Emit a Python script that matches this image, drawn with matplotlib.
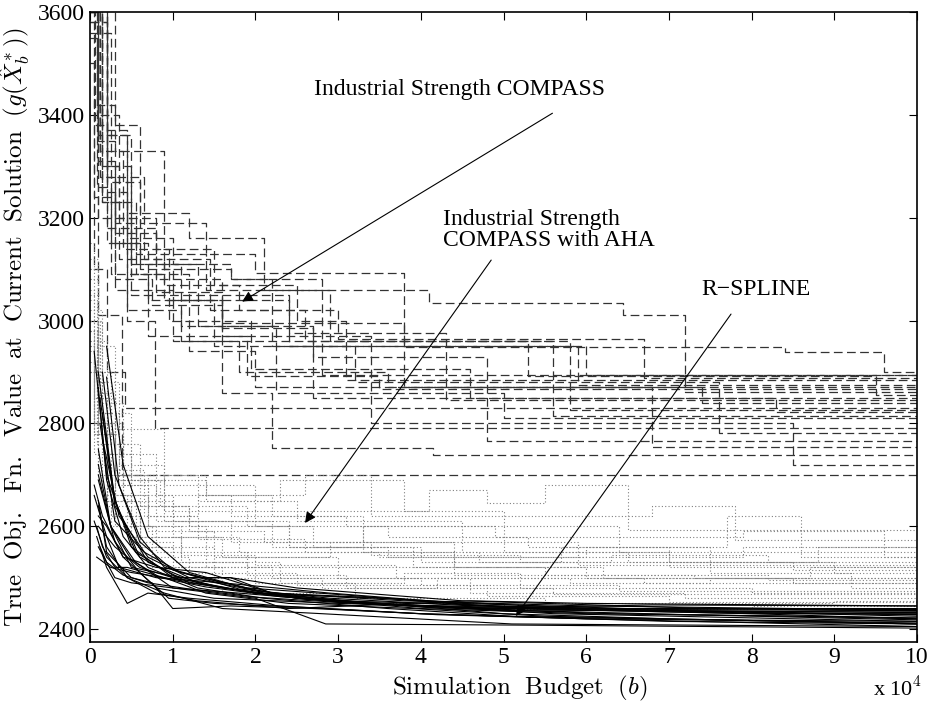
# Sample paths of three solvers: true objective of current solution vs budget
import numpy as np
import matplotlib.pyplot as plt

plt.rcParams['font.family'] = ['Liberation Serif', 'DejaVu Serif']
plt.rcParams['mathtext.fontset'] = 'cm'

# budget in units of 1e4, step paths (value holds until next breakpoint)
compass_x = [
    [0, 0.08, 0.3, 0.6, 1.4, 2.0, 3.8, 8.4, 9.6, 10],
    [0, 0.15, 0.45, 1.2, 2.1, 4.1, 6.45, 7.2, 10],
    [0, 0.1, 0.35, 0.9, 1.8, 3.0, 6.7, 10],
    [0, 0.2, 0.6, 1.3, 2.4, 5.9, 10],
    [0, 0.05, 0.3, 0.75, 1.6, 2.7, 10],
    [0, 0.12, 0.4, 0.95, 1.95, 4.6, 8.3, 10],
    [0, 0.2, 0.8, 1.6, 2.2, 4.15, 10],
    [0, 0.1, 0.39, 10],
    [0, 0.15, 0.45, 0.79, 10],
    [0, 0.2, 0.5, 1.1, 2.25, 5.0, 10],
    [0, 0.1, 0.3, 1.0, 1.8, 3.6, 7.4, 10],
    [0, 0.05, 0.2, 0.42, 10],
    [0, 0.1, 0.5, 1.3, 2.7, 4.8, 10],
    [0, 0.25, 0.7, 1.5, 3.2, 7.6, 10],
    [0, 0.15, 0.55, 1.2, 2.0, 6.8, 10],
    [0, 0.1, 0.3, 0.8, 1.6, 3.4, 8.5, 10],
    [0, 0.2, 0.65, 1.45, 2.6, 5.3, 9.5, 10],
    [0, 0.08, 0.25, 0.7, 1.9, 3.5, 10],
    [0, 0.3, 0.9, 1.7, 2.8, 10],
    [0, 0.1, 0.45, 1.1, 5.6, 10],
    [0, 0.1, 0.35, 0.8, 1.5, 2.5, 3.1, 10],
    [0, 0.06, 0.2, 0.6, 1.0, 2.4, 4.3, 10],
    [0, 0.12, 0.3, 0.55, 1.4, 2.9, 5.8, 10],
    [0, 0.2, 0.5, 0.9, 1.6, 3.8, 10],
    [0, 0.15, 0.45, 1.0, 1.7, 2.2, 6.0, 10],
]
compass_y = [
    [3700, 3420, 3380, 3190, 3130, 3093, 2948, 2939, 2900, 2900],
    [3620, 3370, 3210, 3160, 3060, 3034, 3011, 2861, 2861],
    [3650, 3300, 3120, 3070, 3020, 2965, 2888, 2888],
    [3610, 3270, 3110, 3050, 2950, 2875, 2875],
    [3600, 3240, 3080, 3030, 2985, 2849, 2849],
    [3680, 3330, 3140, 3000, 2905, 2850, 2822, 2822],
    [3580, 3180, 3055, 2859, 2752, 2739, 2739],
    [3650, 3010, 2700, 2700],
    [3600, 3250, 3000, 2791, 2791],
    [3700, 3300, 3110, 2990, 2860, 2810, 2810],
    [3620, 3350, 3060, 2960, 2900, 2870, 2840, 2840],
    [3500, 3100, 2900, 2830, 2830],
    [3640, 3200, 3050, 2990, 2930, 2765, 2765],
    [3560, 3150, 3040, 2950, 2880, 2781, 2781],
    [3600, 3230, 3090, 2940, 2870, 2754, 2754],
    [3660, 3310, 3170, 3080, 2970, 2800, 2719, 2719],
    [3610, 3280, 3120, 3020, 2960, 2893, 2855, 2855],
    [3550, 3260, 3090, 2970, 2892, 2867, 2867],
    [3640, 3330, 3100, 3080, 2895, 2895],
    [3700, 3360, 3020, 2960, 2815, 2815],
    [3650, 3400, 3200, 3140, 3070, 3000, 2884, 2884],
    [3600, 3380, 3150, 3100, 3040, 2975, 2845, 2845],
    [3700, 3280, 3190, 3130, 3060, 2960, 2826, 2826],
    [3580, 3360, 3090, 3040, 2995, 2870, 2870],
    [3620, 3230, 3160, 3110, 3080, 2950, 2895, 2895],
]

aha_x = [
    [0, 0.1, 0.35, 0.9, 2.0, 4.1, 4.8, 5.5, 6.5, 10],
    [0, 0.05, 0.3, 0.7, 1.3, 2.6, 3.4, 6.8, 7.8, 10],
    [0, 0.1, 0.4, 1.0, 2.2, 3.3, 5.0, 7.0, 10],
    [0, 0.08, 0.3, 0.6, 1.6, 2.9, 4.4, 6.0, 8.5, 10],
    [0, 0.15, 0.5, 1.2, 2.4, 4.0, 5.7, 7.5, 9.2, 10],
    [0, 0.1, 0.25, 0.8, 1.9, 3.0, 4.6, 7.2, 10],
    [0, 0.05, 0.2, 0.5, 1.1, 2.3, 3.8, 5.2, 8.0, 10],
    [0, 0.1, 0.4, 1.0, 1.8, 3.5, 6.0, 7.7, 8.6, 10],
    [0, 0.1, 0.3, 0.7, 1.4, 2.0, 3.2, 5.5, 9.0, 10],
    [0, 0.05, 0.2, 0.6, 1.5, 2.8, 4.2, 5.8, 7.5, 10],
    [0, 0.1, 0.35, 0.9, 2.0, 3.6, 5.3, 7.0, 9.0, 10],
    [0, 0.12, 0.5, 1.3, 2.5, 4.5, 6.5, 8.8, 10],
    [0, 0.1, 0.3, 0.75, 1.6, 3.0, 5.0, 8.0, 10],
    [0, 0.05, 0.25, 0.8, 1.7, 3.1, 4.9, 7.9, 9.6, 10],
    [0, 0.2, 0.6, 1.2, 2.1, 3.3, 4.7, 6.3, 8.2, 10],
    [0, 0.08, 0.3, 0.9, 2.4, 3.9, 6.2, 8.7, 10],
    [0, 0.05, 0.2, 0.5, 1.0, 2.2, 4.0, 6.4, 10],
    [0, 0.1, 0.3, 0.7, 1.5, 3.0, 5.5, 8.2, 10],
    [0, 0.08, 0.25, 0.6, 1.2, 2.5, 4.8, 7.0, 10],
    [0, 0.1, 0.4, 0.8, 1.7, 3.4, 5.2, 8.5, 10],
    [0, 0.05, 0.15, 0.45, 1.1, 2.0, 3.7, 6.7, 10],
    [0, 0.12, 0.35, 0.85, 1.9, 2.7, 3.6, 5.9, 10],
    [0, 0.1, 0.3, 0.65, 1.3, 2.6, 4.4, 7.3, 10],
    [0, 0.05, 0.2, 0.55, 1.0, 1.9, 3.1, 5.6, 10],
    [0, 0.15, 0.5, 1.4, 2.3, 3.8, 5.0, 6.4, 10],
    [0, 0.1, 0.3, 0.9, 1.4, 2.2, 3.3, 5.9, 7.9, 10],
]
aha_y = [
    [3000, 2820, 2700, 2680, 2630, 2670, 2645, 2680, 2593, 2593],
    [2950, 2800, 2680, 2620, 2660, 2700, 2620, 2640, 2573, 2573],
    [3100, 2780, 2650, 2610, 2560, 2600, 2550, 2520, 2520],
    [2980, 2760, 2620, 2580, 2540, 2570, 2520, 2500, 2490, 2490],
    [3020, 2740, 2640, 2600, 2560, 2530, 2560, 2510, 2480, 2480],
    [2900, 2720, 2600, 2550, 2520, 2500, 2470, 2460, 2460],
    [3060, 2850, 2700, 2600, 2530, 2490, 2510, 2480, 2470, 2470],
    [2950, 2800, 2660, 2580, 2550, 2540, 2560, 2620, 2540, 2540],
    [3000, 2780, 2660, 2600, 2520, 2490, 2460, 2450, 2455, 2455],
    [2900, 2780, 2650, 2560, 2500, 2480, 2500, 2490, 2500, 2500],
    [3080, 2880, 2720, 2630, 2600, 2580, 2560, 2530, 2510, 2510],
    [2980, 2820, 2700, 2650, 2610, 2550, 2530, 2560, 2560],
    [2920, 2700, 2600, 2520, 2470, 2450, 2440, 2445, 2445],
    [3150, 2900, 2740, 2660, 2620, 2600, 2580, 2590, 2540, 2540],
    [2960, 2760, 2640, 2590, 2570, 2550, 2530, 2545, 2530, 2530],
    [3040, 2850, 2690, 2610, 2560, 2520, 2500, 2520, 2520],
    [2980, 2800, 2640, 2560, 2520, 2500, 2485, 2475, 2475],
    [3120, 2900, 2700, 2590, 2540, 2520, 2505, 2495, 2495],
    [2940, 2760, 2620, 2540, 2510, 2485, 2465, 2452, 2452],
    [3050, 2840, 2680, 2610, 2570, 2545, 2530, 2515, 2515],
    [2900, 2740, 2660, 2580, 2545, 2525, 2500, 2490, 2490],
    [3000, 2820, 2690, 2640, 2600, 2560, 2540, 2525, 2525],
    [3080, 2860, 2710, 2620, 2575, 2550, 2505, 2500, 2500],
    [2960, 2780, 2650, 2570, 2530, 2505, 2480, 2468, 2468],
    [3000, 2760, 2690, 2650, 2690, 2630, 2600, 2550, 2550],
    [3100, 2950, 2790, 2700, 2660, 2620, 2570, 2540, 2560, 2560],
]

rspline_x = [
    [0.05, 0.2, 0.5, 1.0, 2.0, 3.5, 5.0, 7.0, 10],
    [0.1, 0.3, 0.6, 1.2, 2.5, 4.0, 6.0, 8.5, 10],
    [0.1, 0.2, 0.45, 0.9, 1.6, 2.8, 5.1, 10],
    [0.05, 0.15, 0.4, 0.8, 1.5, 3.0, 5.0, 8.0, 10],
    [0.1, 0.25, 0.5, 1.1, 1.7, 2.5, 4.5, 7.5, 10],
    [0.12, 0.3, 0.7, 1.3, 2.0, 3.5, 6.0, 10],
    [0.08, 0.2, 0.45, 0.7, 1.2, 2.3, 4.0, 7.0, 10],
    [0.1, 0.2, 0.4, 0.8, 1.4, 2.2, 3.6, 5.2, 8.0, 10],
    [0.15, 0.3, 0.6, 0.9, 1.6, 2.9, 4.5, 6.5, 10],
    [0.1, 0.3, 0.5, 1.0, 1.8, 3.3, 5.0, 10],
    [0.05, 0.2, 0.35, 0.8, 1.6, 2.5, 4.6, 6.8, 10],
    [0.1, 0.25, 0.55, 1.0, 2.0, 2.85, 5.0, 10],
    [0.1, 0.2, 0.5, 0.75, 1.0, 1.7, 2.7, 4.0, 6.0, 10],
    [0.12, 0.3, 0.65, 1.1, 1.9, 3.2, 4.7, 7.8, 10],
    [0.1, 0.3, 0.6, 1.0, 1.5, 1.7, 2.2, 3.8, 6.0, 10],
    [0.08, 0.25, 0.5, 0.9, 1.4, 2.4, 3.9, 5.5, 10],
    [0.1, 0.2, 0.4, 0.7, 1.3, 2.1, 3.6, 5.1, 7.3, 10],
    [0.15, 0.35, 0.7, 1.2, 2.0, 3.0, 4.5, 6.2, 10],
    [0.05, 0.2, 0.45, 0.8, 1.3, 2.4, 4.6, 6.0, 10],
    [0.1, 0.3, 0.6, 0.95, 1.5, 2.6, 4.2, 6.5, 10],
    [0.2, 0.4, 0.7, 1.2, 2.1, 3.4, 5.0, 7.5, 10],
    [0.15, 0.3, 0.55, 1.0, 1.6, 2.6, 4.1, 6.3, 10],
    [0.08, 0.15, 0.3, 0.45, 0.9, 1.6, 3.0, 5.2, 10],
    [0.1, 0.25, 0.5, 0.85, 1.4, 2.3, 3.7, 5.6, 10],
    [0.2, 0.35, 0.6, 1.0, 1.8, 2.9, 4.5, 7.0, 10],
    [0.12, 0.2, 0.4, 0.7, 1.2, 2.0, 3.2, 5.0, 10],
]
rspline_y = [
    [2940, 2700, 2560, 2500, 2470, 2450, 2430, 2420, 2410],
    [2900, 2650, 2540, 2490, 2460, 2440, 2430, 2425, 2420],
    [2640, 2560, 2500, 2470, 2440, 2430, 2410, 2405],
    [2680, 2620, 2540, 2480, 2460, 2450, 2440, 2430, 2430],
    [2750, 2600, 2520, 2500, 2500, 2480, 2455, 2440, 2435],
    [2850, 2640, 2530, 2490, 2470, 2460, 2440, 2425],
    [2580, 2520, 2450, 2470, 2460, 2445, 2430, 2415, 2410],
    [2620, 2600, 2540, 2520, 2510, 2470, 2460, 2440, 2430, 2420],
    [2900, 2700, 2580, 2520, 2490, 2470, 2450, 2440, 2438],
    [2560, 2500, 2490, 2480, 2470, 2450, 2440, 2440],
    [2660, 2580, 2520, 2500, 2490, 2460, 2440, 2447, 2445],
    [2720, 2600, 2530, 2480, 2460, 2410, 2408, 2402],
    [2650, 2550, 2500, 2490, 2440, 2445, 2440, 2430, 2420, 2415],
    [2800, 2610, 2550, 2510, 2480, 2465, 2445, 2432, 2428],
    [2600, 2560, 2520, 2500, 2500, 2500, 2470, 2455, 2445, 2437],
    [2540, 2520, 2510, 2500, 2470, 2450, 2440, 2425, 2410],
    [2870, 2690, 2580, 2520, 2480, 2460, 2440, 2425, 2418, 2412],
    [2770, 2620, 2540, 2500, 2475, 2455, 2448, 2437, 2432],
    [2610, 2540, 2500, 2470, 2455, 2440, 2455, 2450, 2445],
    [2690, 2570, 2510, 2460, 2450, 2442, 2428, 2418, 2405],
    [2950, 2720, 2580, 2510, 2470, 2450, 2437, 2427, 2418],
    [2820, 2650, 2550, 2505, 2480, 2458, 2442, 2430, 2422],
    [2600, 2560, 2520, 2520, 2500, 2480, 2452, 2437, 2433],
    [2700, 2600, 2535, 2500, 2482, 2463, 2448, 2430, 2415],
    [2890, 2680, 2570, 2515, 2478, 2460, 2446, 2438, 2436],
    [2560, 2530, 2505, 2490, 2478, 2462, 2450, 2442, 2428],
]

fig = plt.figure(figsize=(9.35, 7.07), dpi=100)
ax = fig.add_axes([0.0963, 0.092, 0.8845, 0.891])

for xs, ys in zip(compass_x, compass_y):
    ax.plot(xs, ys, drawstyle='steps-post', color='0.2', lw=0.9, ls=(0, (7, 3.5)))

for xs, ys in zip(aha_x, aha_y):
    ax.plot(xs, ys, drawstyle='steps-post', color='0.5', lw=0.8, ls=(0, (1, 2)))

for xs, ys in zip(rspline_x, rspline_y):
    ax.plot(xs, ys, color='k', lw=0.8)

ax.set_xlim(0, 10)
ax.set_ylim(2375, 3600)
ax.set_xticks(np.arange(0, 11, 1))
ax.set_yticks(np.arange(2400, 3601, 200))
ax.tick_params(direction='in', length=6, width=0.8, labelsize=17,
               top=True, right=True)
for s in ax.spines.values():
    s.set_linewidth(1.2)

ax.set_xlabel(r'$\mathrm{Simulation\ \ Budget}\ \ (b)$', fontsize=18)
ax.xaxis.set_label_coords(0.52, -0.05)
ax.set_ylabel(r'$\mathrm{True\ \ Obj.\ \ Fn.\ \ Value\ \ at\ \ Current\ \ Solution}\ \ (g(\hat{X}_b^*))$',
              fontsize=18, labelpad=4)
fig.text(0.96, 0.025, r'x 10$^4$', fontsize=16, ha='center', va='center')

arrow = dict(arrowstyle='-|>', color='k', lw=0.8, mutation_scale=16)
ax.annotate('', xy=(1.81, 3034), xytext=(5.62, 3406), arrowprops=arrow)
ax.text(4.47, 3429, 'Industrial Strength COMPASS', fontsize=17, ha='center', va='bottom')

ax.annotate('', xy=(2.58, 2602), xytext=(4.87, 3122), arrowprops=arrow)
ax.text(4.27, 3135, 'Industrial Strength\nCOMPASS with AHA', fontsize=17,
        ha='left', va='bottom', linespacing=1.0)

ax.annotate('', xy=(5.13, 2421), xytext=(7.77, 3017), arrowprops=arrow)
ax.text(8.05, 3040, 'R\u2212SPLINE', fontsize=17, ha='center', va='bottom')

fig.savefig('out.png', dpi=100)
